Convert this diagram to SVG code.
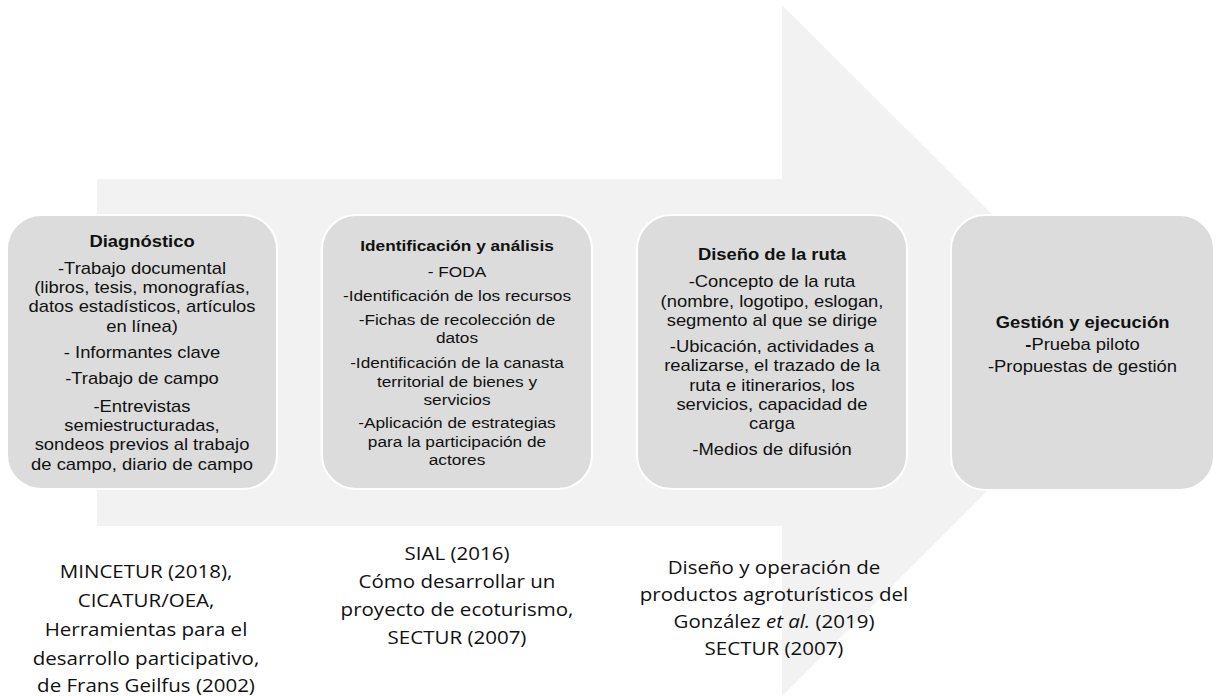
<svg xmlns="http://www.w3.org/2000/svg" width="1216" height="696" viewBox="0 0 1216 696">
  <style>
    .box { fill: #dcdcdc; stroke: #ffffff; stroke-width: 2; }
    .t { font-family: "Liberation Sans", Arial, sans-serif; font-size: 16px; fill: #111111; text-anchor: middle; }
    .t15 { font-size: 15px; }
    .b { font-weight: bold; }
    .ref { font-family: "Open Sans", "Noto Sans", sans-serif; font-size: 19px; fill: #111111; text-anchor: middle; }
  </style>
  <rect width="1216" height="696" fill="#ffffff"/>
  <g id="connectors">
    <polygon id="arrow" points="97,179 782,179 782,5 1128,350 782,696 782,526 97,526" fill="#f2f2f2"/>
  </g>
  <g id="node-diagnostico">
    <rect class="box" x="7" y="215" width="270" height="274" rx="34" ry="34"/>
    <g transform="translate(142 0) scale(1.15 1)">
      <text class="t b" x="0" y="247.5">Diagnóstico</text>
      <text class="t" x="0" y="274.5">-Trabajo documental</text>
      <text class="t" x="0" y="293.5">(libros, tesis, monografías,</text>
      <text class="t" x="0" y="312.5">datos estadísticos, artículos</text>
      <text class="t" x="0" y="332.5">en línea)</text>
      <text class="t" x="0" y="358.5">- Informantes clave</text>
      <text class="t" x="0" y="384.5">-Trabajo de campo</text>
      <text class="t" x="0" y="412.5">-Entrevistas</text>
      <text class="t" x="0" y="431.5">semiestructuradas,</text>
      <text class="t" x="0" y="450.5">sondeos previos al trabajo</text>
      <text class="t" x="0" y="470.5">de campo, diario de campo</text>
    </g>
  </g>
  <g id="node-identificacion">
    <rect class="box" x="322" y="215" width="270" height="274" rx="34" ry="34"/>
    <g transform="translate(457 0) scale(1.15 1)">
      <text class="t t15 b" x="0" y="251">Identificación y análisis</text>
      <text class="t t15" x="0" y="277">- FODA</text>
      <text class="t t15" x="0" y="301">-Identificación de los recursos</text>
      <text class="t t15" x="0" y="325">-Fichas de recolección de</text>
      <text class="t t15" x="0" y="343">datos</text>
      <text class="t t15" x="0" y="368">-Identificación de la canasta</text>
      <text class="t t15" x="0" y="387">territorial de bienes y</text>
      <text class="t t15" x="0" y="405">servicios</text>
      <text class="t t15" x="0" y="428">-Aplicación de estrategias</text>
      <text class="t t15" x="0" y="447">para la participación de</text>
      <text class="t t15" x="0" y="465">actores</text>
    </g>
  </g>
  <g id="node-diseno">
    <rect class="box" x="637" y="215" width="270" height="274" rx="34" ry="34"/>
    <g transform="translate(772 0) scale(1.15 1)">
      <text class="t b" x="0" y="260.5">Diseño de la ruta</text>
      <text class="t" x="0" y="287.5">-Concepto de la ruta</text>
      <text class="t" x="0" y="307.5">(nombre, logotipo, eslogan,</text>
      <text class="t" x="0" y="326.5">segmento al que se dirige</text>
      <text class="t" x="0" y="352.5">-Ubicación, actividades a</text>
      <text class="t" x="0" y="371.5">realizarse, el trazado de la</text>
      <text class="t" x="0" y="391.5">ruta e itinerarios, los</text>
      <text class="t" x="0" y="410.5">servicios, capacidad de</text>
      <text class="t" x="0" y="429.5">carga</text>
      <text class="t" x="0" y="455.5">-Medios de difusión</text>
    </g>
  </g>
  <g id="node-gestion">
    <rect class="box" x="951" y="215" width="263" height="275" rx="34" ry="34"/>
    <g transform="translate(1082.5 0) scale(1.15 1)">
      <text class="t b" x="0" y="328">Gestión y ejecución</text>
      <text class="t" x="0" y="350"><tspan class="b">-</tspan>Prueba piloto</text>
      <text class="t" x="0" y="372">-Propuestas de gestión</text>
    </g>
  </g>
  <g id="ref-1">
    <g transform="translate(146 0) scale(1.08 1)">
      <text class="ref" x="0" y="578">MINCETUR (2018),</text>
      <text class="ref" x="0" y="607">CICATUR/OEA,</text>
      <text class="ref" x="0" y="636">Herramientas para el</text>
      <text class="ref" x="0" y="665">desarrollo participativo,</text>
      <text class="ref" x="0" y="692">de Frans Geilfus (2002)</text>
    </g>
  </g>
  <g id="ref-2">
    <g transform="translate(457 0) scale(1.08 1)">
      <text class="ref" x="0" y="560">SIAL (2016)</text>
      <text class="ref" x="0" y="588">Cómo desarrollar un</text>
      <text class="ref" x="0" y="616">proyecto de ecoturismo,</text>
      <text class="ref" x="0" y="644">SECTUR (2007)</text>
    </g>
  </g>
  <g id="ref-3">
    <g transform="translate(774 0) scale(1.08 1)">
      <text class="ref" x="0" y="574">Diseño y operación de</text>
      <text class="ref" x="0" y="601">productos agroturísticos del</text>
      <text class="ref" x="0" y="628">González <tspan font-style="italic">et al.</tspan> (2019)</text>
      <text class="ref" x="0" y="655">SECTUR (2007)</text>
    </g>
  </g>
</svg>
